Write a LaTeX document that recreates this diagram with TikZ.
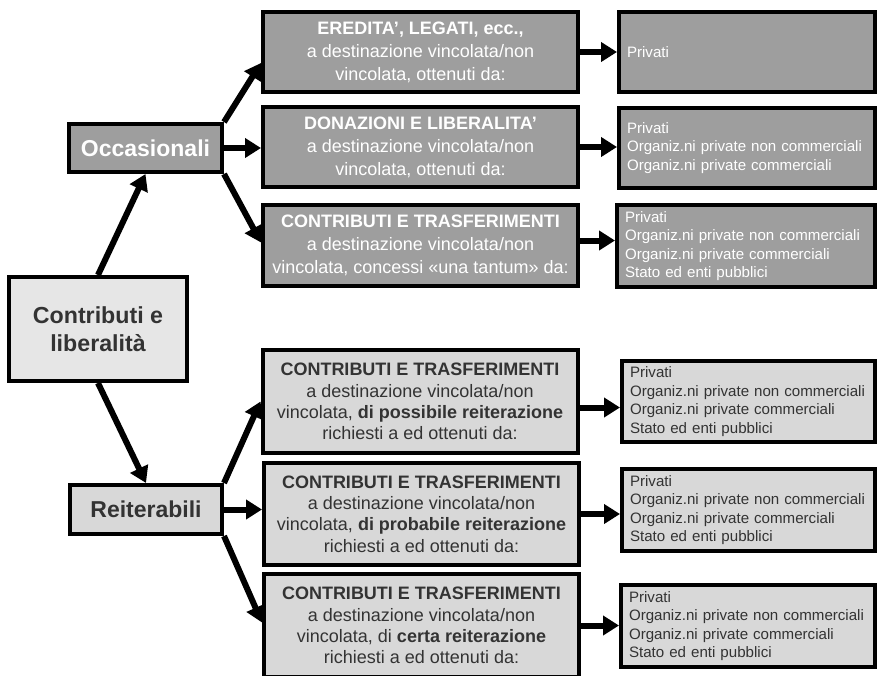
\documentclass[tikz,border=0pt]{standalone}
\usepackage{fontspec}
\setmainfont{Liberation Sans}
\usetikzlibrary{arrows.meta}
\definecolor{darkfill}{HTML}{9E9E9E}
\definecolor{lightfill}{HTML}{D8D8D8}
\definecolor{palefill}{HTML}{E6E6E6}
\definecolor{inkgray}{HTML}{333333}

\begin{document}
\begin{tikzpicture}[x=1pt,y=-1pt,
  box/.style={draw=black, line width=4pt, inner sep=0pt, rectangle},
  darkbox/.style={box, fill=darkfill, text=white},
  lightbox/.style={box, fill=lightfill, text=inkgray},
  palebox/.style={box, fill=palefill, text=inkgray},
  keytext/.style={font=\fontsize{23}{28}\bfseries\selectfont, align=center},
  topmid/.style={minimum width=315pt, minimum height=80pt, align=center,
    font=\fontsize{18}{23}\selectfont},
  lowmid/.style={minimum width=315pt, minimum height=103pt, align=center,
    font=\fontsize{18}{21.3}\selectfont},
  srclist/.style={minimum height=81pt, align=left, inner xsep=8pt,
    font=\fontsize{15.1}{18.5}\selectfont},
  conn/.style={line width=6pt, -{Triangle[length=16pt,width=19pt]}},
]
\useasboundingbox (0,0) rectangle (877,675);
\clip (0,0) rectangle (877,675);

% --- root and the two families ---
\node[palebox, minimum width=178pt, minimum height=104pt,
      font=\fontsize{23.2}{28}\bfseries\selectfont, align=center]
  (root) at (98,329) {Contributi e\\liberalità};
\node[darkbox, keytext, minimum width=153pt, minimum height=48pt]
  (occ) at (145.5,148) {Occasionali};
\node[lightbox, keytext, minimum width=152pt, minimum height=49pt]
  (reit) at (146,509.5) {Reiterabili};

% --- occasional revenues ---
\node[darkbox, topmid] (e1) at (420.5,52)
  {\textbf{EREDITA’, LEGATI, ecc.,}\\a destinazione vincolata/non\\vincolata, ottenuti da:};
\node[darkbox, topmid] (e2) at (420.5,147)
  {\textbf{DONAZIONI E LIBERALITA’}\\a destinazione vincolata/non\\vincolata, ottenuti da:};
\node[darkbox, topmid, minimum height=81pt] (e3) at (420.5,245.5)
  {\textbf{CONTRIBUTI E TRASFERIMENTI}\\a destinazione vincolata/non\\vincolata, concessi «una tantum» da:};

% --- repeatable revenues ---
\node[lightbox, lowmid] (r1) at (420,401.5)
  {\textbf{CONTRIBUTI E TRASFERIMENTI}\\a destinazione vincolata/non\\vincolata, \textbf{di possibile reiterazione}\\richiesti a ed ottenuti da:};
\node[lightbox, lowmid, minimum height=102pt] (r2) at (421.5,514)
  {\textbf{CONTRIBUTI E TRASFERIMENTI}\\a destinazione vincolata/non\\vincolata, \textbf{di probabile reiterazione}\\richiesti a ed ottenuti da:};
\node[lightbox, lowmid] (r3) at (421.5,625.5)
  {\textbf{CONTRIBUTI E TRASFERIMENTI}\\a destinazione vincolata/non\\vincolata, di \textbf{certa reiterazione}\\richiesti a ed ottenuti da:};

% --- sources ---
\node[darkbox, srclist, minimum width=256pt, minimum height=80pt,
      text width=240pt] (p1) at (747,52) {Privati};
\node[darkbox, srclist, minimum width=256pt, minimum height=80pt,
      text width=240pt] (p2) at (747,148)
  {Privati\\Organiz.ni private non commerciali\\Organiz.ni private commerciali};
\node[darkbox, srclist, minimum width=258pt, minimum height=82pt,
      text width=242pt] (p3) at (746,246)
  {Privati\\Organiz.ni private non commerciali\\Organiz.ni private commerciali\\Stato ed enti pubblici};
\node[lightbox, srclist, minimum width=253pt, text width=237pt]
  (q1) at (748.5,401.5)
  {Privati\\Organiz.ni private non commerciali\\Organiz.ni private commerciali\\Stato ed enti pubblici};
\node[lightbox, srclist, minimum width=253pt, minimum height=82pt, text width=237pt]
  (q2) at (748.5,510)
  {Privati\\Organiz.ni private non commerciali\\Organiz.ni private commerciali\\Stato ed enti pubblici};
\node[lightbox, srclist, minimum width=254pt, minimum height=82pt, text width=238pt]
  (q3) at (748,626)
  {Privati\\Organiz.ni private non commerciali\\Organiz.ni private commerciali\\Stato ed enti pubblici};

% --- connectors ---
\draw[conn] (root.north) -- (occ.south);
\draw[conn] (root.south) -- (reit.north);

\draw[conn] (occ.north east) -- ([yshift=-11pt]e1.west);
\draw[conn] (occ.east) -- (occ.east -| e2.west);
\draw[conn] (occ.south east) -- ([yshift=3pt]e3.west);

\draw[conn] (reit.north east) -- (r1.west);
\draw[conn] (reit.east) -- (reit.east -| r2.west);
\draw[conn] (reit.south east) -- ([yshift=3pt]r3.west);

\draw[conn] (e1.east) -- (e1.east -| p1.west);
\draw[conn] (e2.east) -- (e2.east -| p2.west);
\draw[conn] ([yshift=5pt]e3.east) -- ([yshift=5pt]e3.east -| p3.west);
\draw[conn] ([yshift=-6pt]r1.east) -- ([yshift=-6pt]r1.east -| q1.west);
\draw[conn] (r2.east) -- (r2.east -| q2.west);
\draw[conn] (r3.east) -- (r3.east -| q3.west);
\end{tikzpicture}
\end{document}
